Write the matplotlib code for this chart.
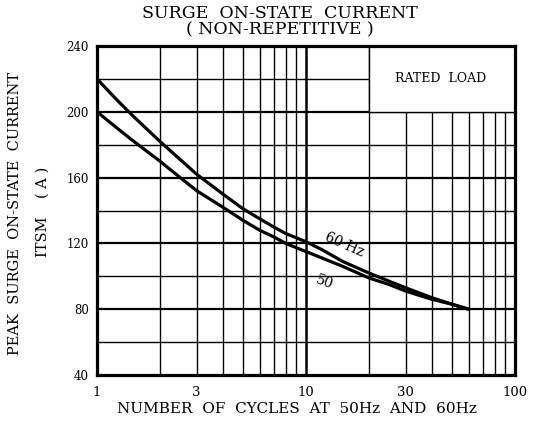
import matplotlib
matplotlib.use("Agg")
import matplotlib.pyplot as plt
from matplotlib.patches import Rectangle

plt.rcParams['font.family'] = ['DejaVu Serif']

# data (cycles vs peak surge current, A)
cycles = [1, 1.25, 1.5, 2, 2.5, 3, 4, 5, 6, 7, 8, 10, 12, 15, 20, 25, 30, 40, 50, 60]
i_60hz = [220, 207, 197, 182, 171, 162, 150, 141, 135, 130, 126, 121, 116, 109, 102,
          97, 93, 87, 83, 80]
i_50hz = [200, 190, 182, 170, 160, 152, 142, 134, 128, 124, 120, 115, 111, 106, 99,
          95, 91, 86, 83, 80]

x_ticks = [1, 3, 10, 30, 100]
x_ticklabels = ['1', '3', '10', '30', '100']
y_ticks = [40, 80, 120, 160, 200, 240]

fig = plt.figure(figsize=(5.47, 4.33), dpi=100)
ax = fig.add_axes([97 / 547, 1 - 375 / 433, 418 / 547, 329 / 433])

ax.set_xscale('log')
ax.set_xlim(1, 100)
ax.set_ylim(40, 240)

# grid
for dec in (1, 10):
    for k in range(2, 10):
        ax.axvline(k * dec, color='black', lw=1.0, zorder=1)
ax.axvline(10, color='black', lw=1.8, zorder=1)
for y in range(60, 240, 20):
    ax.axhline(y, color='black', lw=1.6 if y % 40 == 0 else 1.0, zorder=1)

# rated load box
ax.add_patch(Rectangle((20, 200), 80, 40, facecolor='white', edgecolor='black',
                       lw=1.0, zorder=2))
ax.text(44, 220, 'RATED  LOAD', ha='center', va='center', fontsize=9, zorder=3)

ax.plot(cycles, i_60hz, color='black', lw=2.3, zorder=4)
ax.plot(cycles, i_50hz, color='black', lw=2.3, zorder=4)

ax.text(15.3, 119.5, '60 Hz', rotation=-24, ha='center', va='center', fontsize=10,
        zorder=5)
ax.text(12.3, 96.5, '50', rotation=-20, ha='center', va='center', fontsize=10,
        zorder=5)

ax.set_xticks(x_ticks)
ax.set_xticklabels(x_ticklabels, fontsize=9.5)
ax.set_xticks([], minor=True)
ax.set_yticks(y_ticks)
ax.set_yticklabels([str(v) for v in y_ticks], fontsize=8.5)
ax.tick_params(length=0, pad=6)
ax.tick_params(axis='x', pad=8)
for s in ax.spines.values():
    s.set_linewidth(2.3)

fig.text(280 / 547, 1 - 14 / 433, 'SURGE  ON-STATE  CURRENT', ha='center',
         va='center', fontsize=12.5)
fig.text(280 / 547, 1 - 30 / 433, '( NON-REPETITIVE )', ha='center',
         va='center', fontsize=12.5)
fig.text(15 / 547, 1 - 213 / 433, 'PEAK  SURGE  ON-STATE  CURRENT', rotation=90,
         ha='center', va='center', fontsize=10.5)
fig.text(43 / 547, 1 - 212 / 433, 'ITSM    ( A )', rotation=90,
         ha='center', va='center', fontsize=10.5)
fig.text(297 / 547, 1 - 409 / 433, 'NUMBER  OF  CYCLES  AT  50Hz  AND  60Hz',
         ha='center', va='center', fontsize=11)

fig.savefig('out.png', dpi=100)
